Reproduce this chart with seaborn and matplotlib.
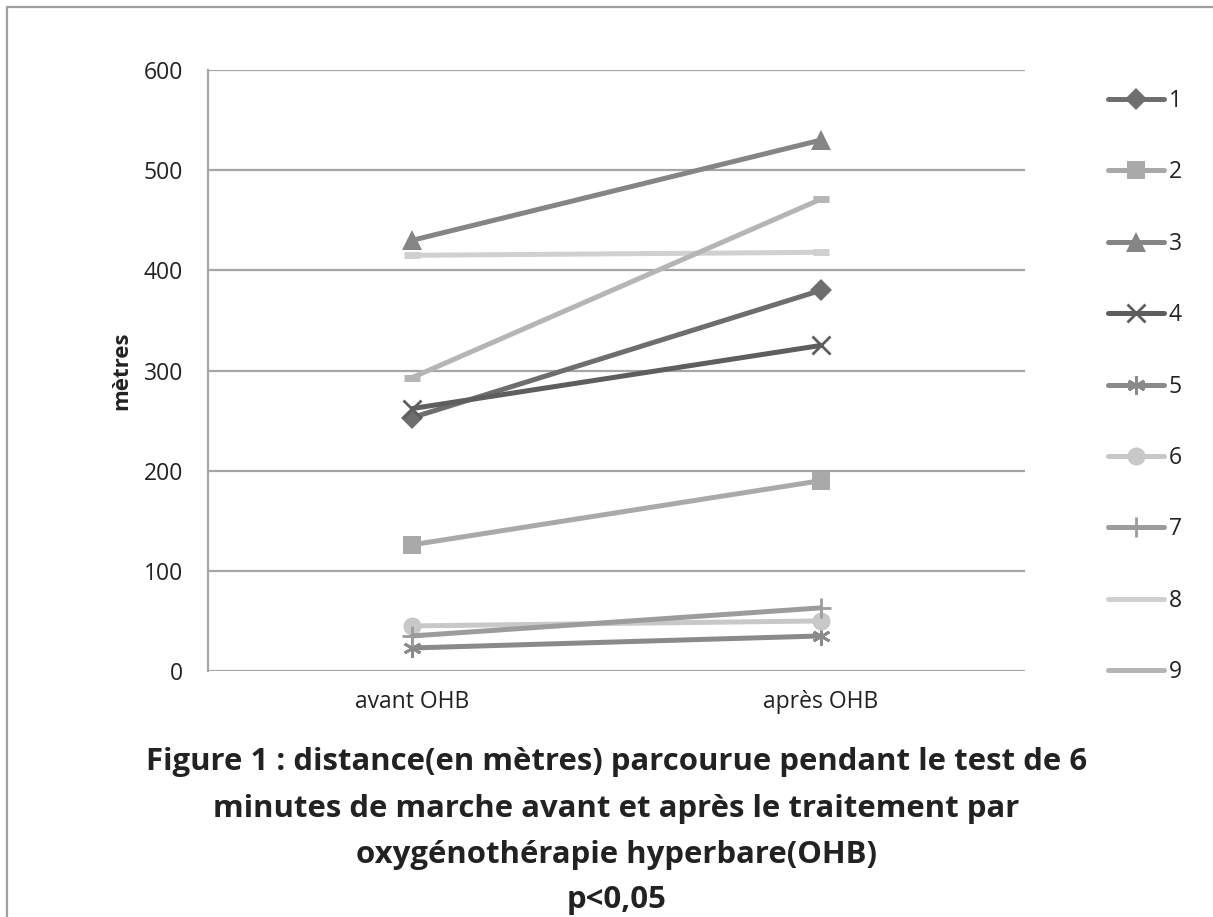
import matplotlib
matplotlib.use("Agg")
import matplotlib.pyplot as plt
from matplotlib.lines import Line2D
import seaborn as sns

categories = ["avant OHB", "après OHB"]
series_names = ["1", "2", "3", "4", "5", "6", "7", "8", "9"]
s1 = [253, 380]
s2 = [126, 190]
s3 = [430, 530]
s4 = [262, 325]
s5 = [23, 35]
s6 = [45, 50]
s7 = [35, 63]
s8 = [415, 418]
s9 = [293, 471]
series_values = [s1, s2, s3, s4, s5, s6, s7, s8, s9]
colors = ["#6e6e6e", "#a9a9a9", "#858585", "#5e5e5e", "#8a8a8a",
          "#c8c8c8", "#9c9c9c", "#d0d0d0", "#b5b5b5"]
markers = ["D", "s", "^", "x", (6, 2, 0), "o", "+", "_", "_"]
msizes = [11, 13, 14, 13, 13, 13, 14, 12, 12]
title_lines = ["Figure 1 : distance(en mètres) parcourue pendant le test de 6",
               "minutes de marche avant et après le traitement par",
               "oxygénothérapie hyperbare(OHB)",
               "p<0,05"]

sns.set_theme(style="white")
plt.rcParams['font.family'] = ['Open Sans', 'DejaVu Sans']

W, H = 1213, 917
fig = plt.figure(figsize=(W / 100, H / 100), dpi=100)
ax = fig.add_axes([208 / W, 1 - 671 / H, (1025 - 208) / W, (671 - 70) / H])

for name, vals, c, m, ms in zip(series_names, series_values, colors, markers, msizes):
    if m in ("x", "+") or isinstance(m, tuple):
        mew = 2.0
    elif m == "_":
        mew = 5
    else:
        mew = 0
    sns.lineplot(x=categories, y=vals, ax=ax, color=c, marker=m, markersize=ms,
                 markeredgecolor=c, markerfacecolor=c, markeredgewidth=mew,
                 linewidth=3.6, label=name, sort=False, solid_capstyle="round")

ax.set_xlim(-0.5, 1.5)
ax.set_ylim(0, 600)
ax.set_yticks(range(0, 601, 100))
ax.yaxis.grid(True, color="#a6a6a6", linewidth=1.6)
ax.set_axisbelow(True)
for side in ["top", "right", "bottom"]:
    ax.spines[side].set_visible(False)
ax.spines["left"].set_color("#a6a6a6")
ax.spines["left"].set_linewidth(1.6)
ax.tick_params(axis="y", length=0, labelsize=16.5, colors="#222222", pad=18)
ax.tick_params(axis="x", length=0, labelsize=16.5, colors="#222222", pad=14)
ax.set_xlabel("")
ax.set_ylabel("mètres", fontsize=16, fontweight="bold", color="#222222", labelpad=8)

fs = 16.5
leg = ax.legend(loc="upper left", bbox_to_anchor=(1.0906, 0.984), frameon=False,
                fontsize=fs, handlelength=2.45, handletextpad=0.2,
                labelspacing=2.07, borderaxespad=0)
for t in leg.get_texts():
    t.set_color("#222222")
for h, m in zip(leg.legend_handles, markers):
    if m == "_":
        h.set_marker("None")

baselines = [770, 817, 863, 908]
for txt, yy in zip(title_lines, baselines):
    fig.text(0.508, 1 - yy / H, txt, ha="center", va="baseline", fontsize=22.4,
             fontweight="bold", color="#222222")

fig.add_artist(Line2D([7 / W, 1.0], [1 - 6.5 / H, 1 - 6.5 / H], color="#a0a0a0", linewidth=1.6,
                      transform=fig.transFigure))
fig.add_artist(Line2D([7 / W, 7 / W], [0.0, 1 - 6.5 / H], color="#a0a0a0", linewidth=1.6,
                      transform=fig.transFigure))

fig.savefig("out.png", dpi=100)
